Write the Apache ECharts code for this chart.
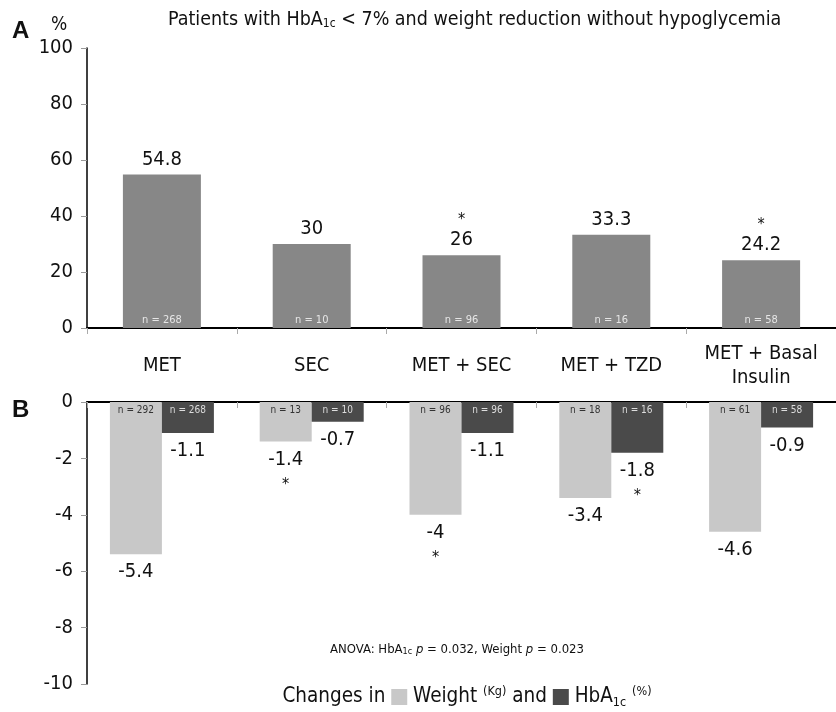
<!DOCTYPE html>
<html>
<head>
<meta charset="utf-8">
<script src="https://cdn.jsdelivr.net/npm/echarts@6/dist/echarts.min.js"></script>
<style>html,body{margin:0;padding:0;background:#fff}#c{width:836px;height:712px}</style>
</head>
<body>
<div id="c"></div>
<script>
// ---- data ----
var categories = ['MET', 'SEC', 'MET + SEC', 'MET + TZD', 'MET + Basal\nInsulin'];
var pctA = [54.8, 30, 26, 33.3, 24.2];
var nA = [268, 10, 96, 16, 58];
var sigA = [false, false, true, false, true];
var weightB = [-5.4, -1.4, -4, -3.4, -4.6];
var hbaB = [-1.1, -0.7, -1.1, -1.8, -0.9];
var nWeight = [292, 13, 96, 18, 61];
var nHba = [268, 10, 96, 16, 58];
var sigWeight = [false, true, true, false, false];
var sigHba = [false, false, false, true, false];
var yTicksA = [0, 20, 40, 60, 80, 100];
var yTicksB = [-10, -8, -6, -4, -2, 0];

var FONT = "'DejaVu Sans Condensed', 'DejaVu Sans', sans-serif";
var cA = '#878787', cW = '#c8c8c8', cH = '#4a4a4a';

var chart = echarts.init(document.getElementById('c'), null, {renderer: 'canvas'});

function valAxis(idx, ticks) {
  return {
    type: 'value', gridIndex: idx,
    min: ticks[0], max: ticks[ticks.length - 1], interval: ticks[1] - ticks[0],
    axisLine: {show: true, lineStyle: {color: '#000', width: 1.5}},
    axisTick: {show: true, length: 6, lineStyle: {color: '#999'}},
    axisLabel: {fontSize: 20, color: '#111', fontFamily: FONT, margin: 14},
    splitLine: {show: false}
  };
}

var option = {
  backgroundColor: '#fff',
  animation: false,
  textStyle: {fontFamily: FONT},
  title: {
    text: 'Patients with HbA{sub|1c} < 7% and weight reduction without hypoglycemia',
    left: 163, top: 5,
    textStyle: {
      fontSize: 19.5, fontWeight: 'normal', color: '#111', fontFamily: FONT,
      rich: {sub: {fontSize: 12, verticalAlign: 'bottom', lineHeight: 10, fontFamily: FONT, color: '#111'}}
    }
  },
  grid: [
    {left: 87, top: 48, right: -6, height: 280, containLabel: false},
    {left: 87, top: 402, right: -6, height: 282, containLabel: false}
  ],
  xAxis: [
    {
      type: 'category', gridIndex: 0, data: categories, position: 'bottom',
      axisLine: {show: true, onZero: false, lineStyle: {color: '#000', width: 2}},
      axisTick: {show: true, length: 6, lineStyle: {color: '#aaa'}},
      axisLabel: {fontSize: 20, color: '#111', fontFamily: FONT, margin: 38, verticalAlign: 'middle', lineHeight: 24, interval: 0}
    },
    {
      type: 'category', gridIndex: 1, data: categories, position: 'top',
      axisLine: {show: true, onZero: false, lineStyle: {color: '#000', width: 2}},
      axisTick: {show: true, inside: true, length: 6, lineStyle: {color: '#aaa'}},
      axisLabel: {show: false}
    },
    {
      type: 'category', gridIndex: 1, data: categories, position: 'top', show: false
    }
  ],
  yAxis: [valAxis(0, yTicksA), valAxis(1, yTicksB)],
  graphic: [
    {type: 'text', left: 12, top: 19, style: {text: 'A', fontSize: 24, fontWeight: 'bold', fontFamily: 'Liberation Sans, Arial, sans-serif', fill: '#111'}},
    {type: 'text', left: 51, top: 16, style: {text: '%', fontSize: 19, fontFamily: FONT, fill: '#111'}},
    {type: 'text', left: 12, top: 398, style: {text: 'B', fontSize: 24, fontWeight: 'bold', fontFamily: 'Liberation Sans, Arial, sans-serif', fill: '#111'}},
    {type: 'text', x: 457, y: 650, style: {
      text: 'ANOVA: HbA{sub|1c} {it|p} = 0.032, Weight {it|p} = 0.023',
      align: 'center', verticalAlign: 'middle', fontSize: 13, fontFamily: FONT, fill: '#111',
      rich: {
        sub: {fontSize: 9, verticalAlign: 'bottom', lineHeight: 9, fontFamily: FONT, fill: '#111'},
        it: {fontSize: 13, fontStyle: 'italic', fontFamily: FONT, fill: '#111'}
      }
    }},
    {type: 'text', x: 467, y: 697, style: {
      text: 'Changes in {sq1|} Weight {sup|(Kg)} and {sq2|} HbA{sub|1c} {sup|(%)}',
      align: 'center', verticalAlign: 'middle', fontSize: 20.5, lineHeight: 24, fontFamily: FONT, fill: '#111',
      rich: {
        sq1: {width: 16, height: 16, backgroundColor: cW},
        sq2: {width: 16, height: 16, backgroundColor: cH},
        sup: {fontSize: 12.5, verticalAlign: 'top', lineHeight: 12, fontFamily: FONT, fill: '#111'},
        sub: {fontSize: 12.5, verticalAlign: 'bottom', lineHeight: 12, fontFamily: FONT, fill: '#111'}
      }
    }}
  ],
  series: [
    {
      name: 'Patients', type: 'bar', xAxisIndex: 0, yAxisIndex: 0,
      data: pctA, barWidth: 78, barGap: '-100%',
      itemStyle: {color: cA},
      label: {
        show: true, position: 'top', distance: 4, color: '#111', fontFamily: FONT,
        formatter: function (p) { return (sigA[p.dataIndex] ? '{s|*}\n' : '') + '{v|' + p.value + '}'; },
        rich: {
          v: {fontSize: 20, lineHeight: 22, fontFamily: FONT, color: '#111'},
          s: {fontSize: 16, lineHeight: 18, fontFamily: FONT, color: '#111'}
        }
      }
    },
    {
      name: 'nA', type: 'bar', xAxisIndex: 0, yAxisIndex: 0,
      data: pctA, barWidth: 78, barGap: '-100%',
      itemStyle: {color: 'rgba(0,0,0,0)'}, silent: true,
      label: {
        show: true, position: 'insideBottom', distance: 2, fontSize: 11, color: '#e6e6e6', fontFamily: FONT,
        formatter: function (p) { return 'n = ' + nA[p.dataIndex]; }
      }
    },
    {
      name: 'Weight (Kg)', type: 'bar', xAxisIndex: 1, yAxisIndex: 1,
      data: weightB, barWidth: 52, barGap: '0%',
      itemStyle: {color: cW},
      label: {
        show: true, position: 'bottom', distance: 7, color: '#111', fontFamily: FONT,
        formatter: function (p) { return '{v|' + p.value + '}' + (sigWeight[p.dataIndex] ? '\n{s|*}' : ''); },
        rich: {
          v: {fontSize: 20, lineHeight: 22, fontFamily: FONT, color: '#111'},
          s: {fontSize: 16, lineHeight: 28, fontFamily: FONT, color: '#111'}
        }
      }
    },
    {
      name: 'HbA1c (%)', type: 'bar', xAxisIndex: 1, yAxisIndex: 1,
      data: hbaB, barWidth: 52, barGap: '0%',
      itemStyle: {color: cH},
      label: {
        show: true, position: 'bottom', distance: 7, color: '#111', fontFamily: FONT,
        formatter: function (p) { return '{v|' + p.value + '}' + (sigHba[p.dataIndex] ? '\n{s|*}' : ''); },
        rich: {
          v: {fontSize: 20, lineHeight: 22, fontFamily: FONT, color: '#111'},
          s: {fontSize: 16, lineHeight: 28, fontFamily: FONT, color: '#111'}
        }
      }
    },
    {
      name: 'nWeight', type: 'bar', xAxisIndex: 2, yAxisIndex: 1,
      data: weightB, barWidth: 52, barGap: '0%', silent: true,
      itemStyle: {color: 'rgba(0,0,0,0)'},
      label: {
        show: true, position: 'insideTop', distance: 3, fontSize: 10, color: '#333', fontFamily: FONT,
        formatter: function (p) { return 'n = ' + nWeight[p.dataIndex]; }
      }
    },
    {
      name: 'nHba', type: 'bar', xAxisIndex: 2, yAxisIndex: 1,
      data: hbaB, barWidth: 52, barGap: '0%', silent: true,
      itemStyle: {color: 'rgba(0,0,0,0)'},
      label: {
        show: true, position: 'insideTop', distance: 3, fontSize: 10, color: '#ddd', fontFamily: FONT,
        formatter: function (p) { return 'n = ' + nHba[p.dataIndex]; }
      }
    }
  ]
};
chart.setOption(option);
</script>
</body>
</html>
